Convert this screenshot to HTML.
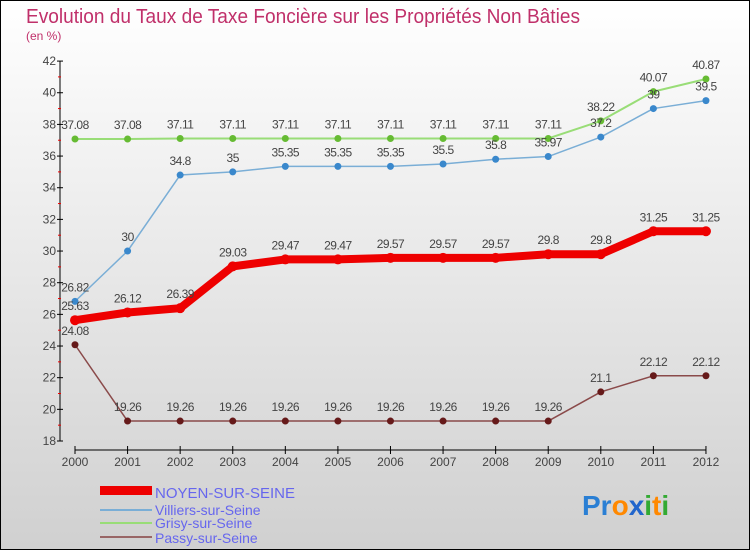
<!DOCTYPE html>
<html><head><meta charset="utf-8"><style>
body{margin:0;width:750px;height:550px;overflow:hidden;font-family:"Liberation Sans",sans-serif}
svg text{font-family:"Liberation Sans",sans-serif}
</style></head><body>
<svg id="c" width="750" height="550" xmlns="http://www.w3.org/2000/svg">
<defs><linearGradient id="bg" x1="0" y1="0" x2="0" y2="1"><stop offset="0" stop-color="#ffffff"/><stop offset="1" stop-color="#d0d0d0"/></linearGradient></defs>
<rect x="0.5" y="0.5" width="749" height="549" fill="url(#bg)" stroke="#000"/>
<text x="26" y="23" font-size="20" fill="#c0306a" textLength="554" lengthAdjust="spacingAndGlyphs">Evolution du Taux de Taxe Foncière sur les Propriétés Non Bâties</text>
<text x="26" y="40" font-size="12" fill="#c0306a">(en %)</text>
<g id="axes"></g><g id="series"></g>
<g>
<rect x="100" y="486" width="52" height="9" fill="#ee0000"/>
<text x="155" y="498" font-size="15" fill="#6666ee" textLength="140" lengthAdjust="spacingAndGlyphs">NOYEN-SUR-SEINE</text>
<line x1="100" y1="510" x2="152" y2="510" stroke="#7aaed6" stroke-width="2"/>
<text x="155" y="515" font-size="14" fill="#6666ee">Villiers-sur-Seine</text>
<line x1="100" y1="523" x2="152" y2="523" stroke="#99dd77" stroke-width="2"/>
<text x="155" y="528" font-size="14" fill="#6666ee">Grisy-sur-Seine</text>
<line x1="100" y1="537" x2="152" y2="537" stroke="#996666" stroke-width="2"/>
<text x="155" y="543" font-size="14" fill="#6666ee">Passy-sur-Seine</text>
</g>
<g font-size="28" font-weight="bold">
<text x="582" y="515"><tspan fill="#2a7fd4">Pr</tspan><tspan fill="#ff8800">o</tspan><tspan fill="#2266cc">x</tspan><tspan fill="#33aa33">i</tspan><tspan fill="#ff8800">t</tspan><tspan fill="#33aa33">i</tspan></text>
</g>
</svg>
<script>
const years=[2000,2001,2002,2003,2004,2005,2006,2007,2008,2009,2010,2011,2012];
const noyen=[25.63,26.12,26.39,29.03,29.47,29.47,29.57,29.57,29.57,29.8,29.8,31.25,31.25];
const villiers=[26.82,30,34.8,35,35.35,35.35,35.35,35.5,35.8,35.97,37.2,39,39.5];
const grisy=[37.08,37.08,37.11,37.11,37.11,37.11,37.11,37.11,37.11,37.11,38.22,40.07,40.87];
const passy=[24.08,19.26,19.26,19.26,19.26,19.26,19.26,19.26,19.26,19.26,21.1,22.12,22.12];
const yTicks=[18,20,22,24,26,28,30,32,34,36,38,40,42];
const NS="http://www.w3.org/2000/svg";
const X=i=>75+i*52.58, Y=v=>441-(v-18)*15.83;
function mk(t,a,p){const e=document.createElementNS(NS,t);for(const k in a)e.setAttribute(k,a[k]);p.appendChild(e);return e;}
const ax=document.getElementById('axes'), sg=document.getElementById('series');
let l=mk('line',{x1:60,y1:61,x2:60,y2:441,stroke:'#000'},ax);


yTicks.forEach(v=>{mk('line',{x1:57,x2:63,y1:Y(v),y2:Y(v),stroke:'#000'},ax);
 if(v<42)mk('line',{x1:58,x2:61,y1:Y(v+1),y2:Y(v+1),stroke:'#e00'},ax);
 const t=mk('text',{x:56,y:Y(v)+4,'text-anchor':'end','font-size':12,fill:'#444'},ax);t.textContent=v;
 
 });
l=mk('line',{x1:75,y1:450,x2:706,y2:450,stroke:'#000'},ax);


years.forEach((y,i)=>{mk('line',{x1:X(i),x2:X(i),y1:446,y2:454,stroke:'#000'},ax);
 const t=mk('text',{x:X(i),y:466,'text-anchor':'middle','font-size':12,fill:'#444'},ax);t.textContent=y;
 
 });
function series(vals,col,w,dot,name,r){
 const g=mk('g',{},sg);
 
 
 mk('polyline',{points:vals.map((v,i)=>X(i)+','+Y(v)).join(' '),fill:'none',stroke:col,'stroke-width':w,'stroke-linejoin':'round'},g);
 vals.forEach((v,i)=>{const c=mk('circle',{cx:X(i),cy:Y(v),r:r,fill:dot},g);
  
  
  const t=mk('text',{x:X(i),y:Y(v)-10,'text-anchor':'middle','font-size':12,fill:'#444','letter-spacing':'-0.5'},g);t.textContent=v;
  
  });
}
series(grisy,'#99dd77',2,'#66bb33','grisy',3.5);
series(villiers,'#7aaed6',1.5,'#3a88cc','villiers',3.5);
series(passy,'#8a4a4a',1.5,'#661a1a','passy',3.5);
series(noyen,'#ee0000',8,'#ee0000','noyen',5);
</script>
</body></html>
